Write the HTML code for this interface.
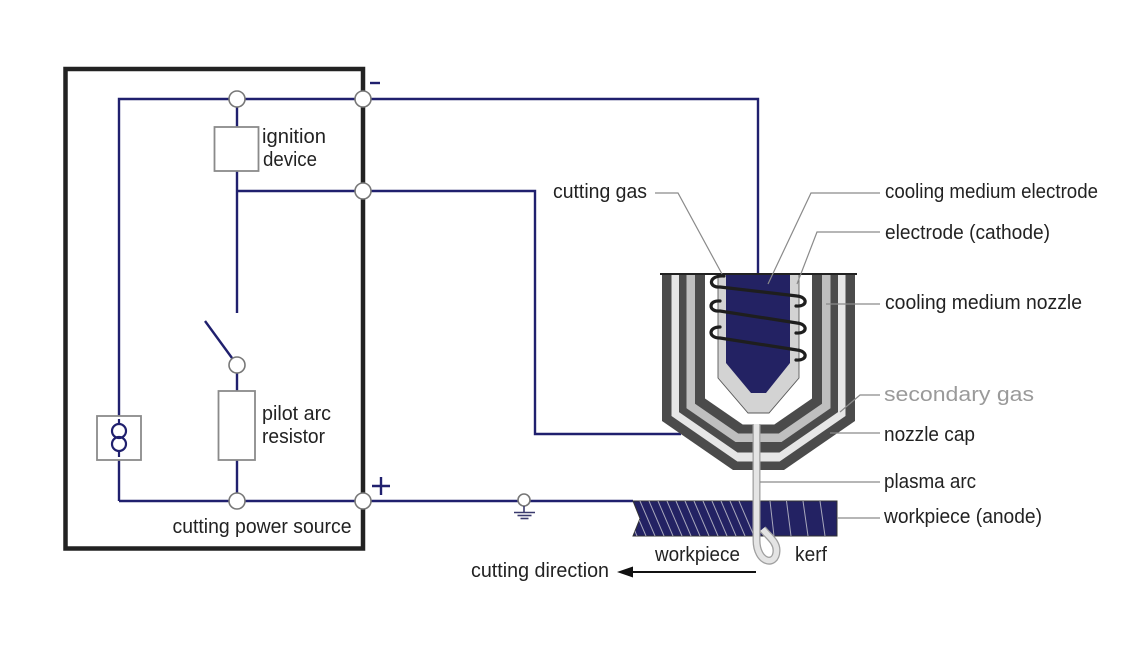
<!DOCTYPE html>
<html>
<head>
<meta charset="utf-8">
<style>
  html,body{margin:0;padding:0;background:#fff;}
  svg{display:block;}
  text{font-family:"Liberation Sans",Arial,sans-serif;font-size:20px;fill:#222;}
</style>
</head>
<body>
<svg width="1148" height="646" viewBox="0 0 1148 646" xmlns="http://www.w3.org/2000/svg">
  <defs>
    <clipPath id="wp">
      <polygon points="633,501 837,501 837,536 633,536 640,518.5"/>
    </clipPath>
  </defs>

  <!-- power source box -->
  <rect x="65.5" y="69" width="297.5" height="479.5" fill="none" stroke="#222" stroke-width="4.5"/>

  <!-- navy wires -->
  <g stroke="#20206e" stroke-width="2.4" fill="none">
    <polyline points="119,416 119,99 758,99 758,274"/>
    <line x1="119" y1="460" x2="119" y2="501"/>
    <polyline points="119,501 633,501"/>
    <line x1="237" y1="99" x2="237" y2="127"/>
    <line x1="237" y1="171" x2="237" y2="313"/>
    <polyline points="237,191 535,191 535,434 681,434"/>
    <line x1="205" y1="321" x2="232" y2="358"/>
    <line x1="237" y1="373" x2="237" y2="391"/>
    <line x1="237" y1="460" x2="237" y2="493"/>
    <!-- signs -->
    <line x1="370" y1="83" x2="380" y2="83"/>
    <line x1="372" y1="486" x2="390" y2="486"/>
    <line x1="381" y1="477" x2="381" y2="495"/>
  </g>

  <!-- boxes -->
  <g fill="#fff" stroke="#8a8a8a" stroke-width="1.8">
    <rect x="214.5" y="127" width="44" height="44"/>
    <rect x="218.5" y="391" width="36.5" height="69"/>
    <rect x="97" y="416" width="44" height="44"/>
  </g>
  <!-- current source symbol -->
  <g stroke="#20206e" stroke-width="2.2" fill="none">
    <line x1="119" y1="419" x2="119" y2="424"/>
    <circle cx="119" cy="431" r="7"/>
    <circle cx="119" cy="444" r="7"/>
    <line x1="119" y1="451" x2="119" y2="457"/>
  </g>

  <!-- nodes -->
  <g fill="#fff" stroke="#777" stroke-width="1.6">
    <circle cx="237" cy="99" r="8"/>
    <circle cx="363" cy="99" r="8"/>
    <circle cx="363" cy="191" r="8"/>
    <circle cx="237" cy="365" r="8"/>
    <circle cx="237" cy="501" r="8"/>
    <circle cx="363" cy="501" r="8"/>
    <circle cx="524" cy="500" r="6"/>
  </g>
  <!-- ground -->
  <g stroke="#3a3a6e" stroke-width="1.6">
    <line x1="524" y1="506" x2="524" y2="512"/>
    <line x1="514" y1="512.5" x2="535" y2="512.5"/>
    <line x1="517.5" y1="515.5" x2="531.5" y2="515.5"/>
    <line x1="520.5" y1="518.5" x2="528.5" y2="518.5"/>
  </g>

  <!-- torch nozzle layers -->
  <polygon points="662,274 662,421 733,470 784,470 855,421 855,274" fill="#4b4b4b"/>
  <polygon points="671.5,274 671.5,416 737.4,461.5 779.6,461.5 845.5,416 845.5,274" fill="#e6e6e6"/>
  <polygon points="679,274 679,412.1 737.5,452.5 779.5,452.5 838,412.1 838,274" fill="#4b4b4b"/>
  <polygon points="686.5,274 686.5,408.2 735.5,442 781.5,442 830.5,408.2 830.5,274" fill="#bfbfbf"/>
  <polygon points="695,274 695,403.7 738.2,433.5 778.8,433.5 822,403.7 822,274" fill="#4b4b4b"/>
  <polygon points="705,274 705,398.5 742.7,424.5 774.3,424.5 812,398.5 812,274" fill="#ffffff"/>

  <!-- electrode holder -->
  <polygon points="718,274 718,378 748,413 769,413 799,378 799,274" fill="#d3d3d3" stroke="#5a5a5a" stroke-width="0.9"/>
  <!-- electrode -->
  <polygon points="726,274 726,363 751,393 766,393 790,363 790,274" fill="#232263"/>

  <!-- top line -->
  <line x1="660" y1="274" x2="857" y2="274" stroke="#222" stroke-width="2"/>

  <!-- coil -->
  <g stroke="#1e1e1e" stroke-width="3.2" fill="none" stroke-linecap="round">
    <path d="M724,276 C708,275 708,288 720,287 L797,296 C808,297 808,307 796,306"/>
    <path d="M720,301 C708,300 708,312 720,311 L797,323 C808,324 808,334 796,333"/>
    <path d="M720,327 C708,327 708,338 720,338 L797,350 C808,351 808,361 796,360"/>
  </g>

  <!-- workpiece -->
  <polygon points="633,501 837,501 837,536 633,536 640,518.5" fill="#232263" stroke="#333" stroke-width="1"/>
  <g clip-path="url(#wp)" stroke="#a8a8bc" stroke-width="1">
    <line x1="622" y1="501" x2="637" y2="536"/>
    <line x1="631" y1="501" x2="646" y2="536"/>
    <line x1="640" y1="501" x2="655" y2="536"/>
    <line x1="649" y1="501" x2="664" y2="536"/>
    <line x1="658" y1="501" x2="673" y2="536"/>
    <line x1="667" y1="501" x2="682" y2="536"/>
    <line x1="676" y1="501" x2="691" y2="536"/>
    <line x1="685" y1="501" x2="700" y2="536"/>
    <line x1="694" y1="501" x2="709" y2="536"/>
    <line x1="703" y1="501" x2="718" y2="536"/>
    <line x1="712" y1="501" x2="727" y2="536"/>
    <line x1="721" y1="501" x2="736" y2="536"/>
    <line x1="730" y1="501" x2="745" y2="536"/>
    <line x1="739" y1="501" x2="754" y2="536"/>
    <line x1="770" y1="501" x2="774" y2="536"/>
    <line x1="786.5" y1="501" x2="791" y2="536"/>
    <line x1="803" y1="501" x2="808" y2="536"/>
    <line x1="820" y1="501" x2="825" y2="536"/>
  </g>

  <!-- plasma arc -->
  <path d="M756.5,424 L756.5,540 C756.5,563 776,567 776.5,551 C777,542 769,537 762.5,529" fill="none" stroke="#a0a0a0" stroke-width="8" stroke-linecap="butt"/>
  <path d="M756.5,424 L756.5,540 C756.5,563 776,567 776.5,551 C777,542 769,537 762.5,529" fill="none" stroke="#e4e4e4" stroke-width="5.4" stroke-linecap="butt"/>

  <!-- leader lines -->
  <g stroke="#8a8a8a" stroke-width="1.2" fill="none">
    <polyline points="655,193 678,193 722,274"/>
    <polyline points="880,193 811,193 768,284"/>
    <polyline points="880,232 817,232 797,284"/>
    <line x1="880" y1="304" x2="826" y2="304"/>
    <polyline points="880,395 860,395 840,412"/>
    <line x1="880" y1="433" x2="830" y2="433"/>
    <line x1="880" y1="482" x2="760" y2="482"/>
    <line x1="880" y1="518" x2="837" y2="518"/>
  </g>

  <!-- cutting direction arrow -->
  <line x1="756" y1="572" x2="628" y2="572" stroke="#111" stroke-width="2"/>
  <polygon points="617,572 633,566.5 633,577.5" fill="#111"/>

  <!-- texts -->
  <text x="262" y="143" textLength="64" lengthAdjust="spacingAndGlyphs">ignition</text>
  <text x="263" y="166" textLength="54" lengthAdjust="spacingAndGlyphs">device</text>
  <text x="262" y="420" textLength="69" lengthAdjust="spacingAndGlyphs">pilot arc</text>
  <text x="262" y="443" textLength="63" lengthAdjust="spacingAndGlyphs">resistor</text>
  <text x="172.5" y="533" textLength="179" lengthAdjust="spacingAndGlyphs">cutting power source</text>
  <text x="553" y="198" textLength="94" lengthAdjust="spacingAndGlyphs">cutting gas</text>
  <text x="885" y="198" textLength="213" lengthAdjust="spacingAndGlyphs">cooling medium electrode</text>
  <text x="885" y="239" textLength="165" lengthAdjust="spacingAndGlyphs">electrode (cathode)</text>
  <text x="885" y="309" textLength="197" lengthAdjust="spacingAndGlyphs">cooling medium nozzle</text>
  <text x="884" y="401" textLength="150" lengthAdjust="spacingAndGlyphs" style="fill:#9a9a9a">secondary gas</text>
  <text x="884" y="441" textLength="91" lengthAdjust="spacingAndGlyphs">nozzle cap</text>
  <text x="884" y="488" textLength="92" lengthAdjust="spacingAndGlyphs">plasma arc</text>
  <text x="884" y="523" textLength="158" lengthAdjust="spacingAndGlyphs">workpiece (anode)</text>
  <text x="655" y="561" textLength="85" lengthAdjust="spacingAndGlyphs">workpiece</text>
  <text x="795" y="561" textLength="32" lengthAdjust="spacingAndGlyphs">kerf</text>
  <text x="471" y="577" textLength="138" lengthAdjust="spacingAndGlyphs">cutting direction</text>
</svg>
</body>
</html>
